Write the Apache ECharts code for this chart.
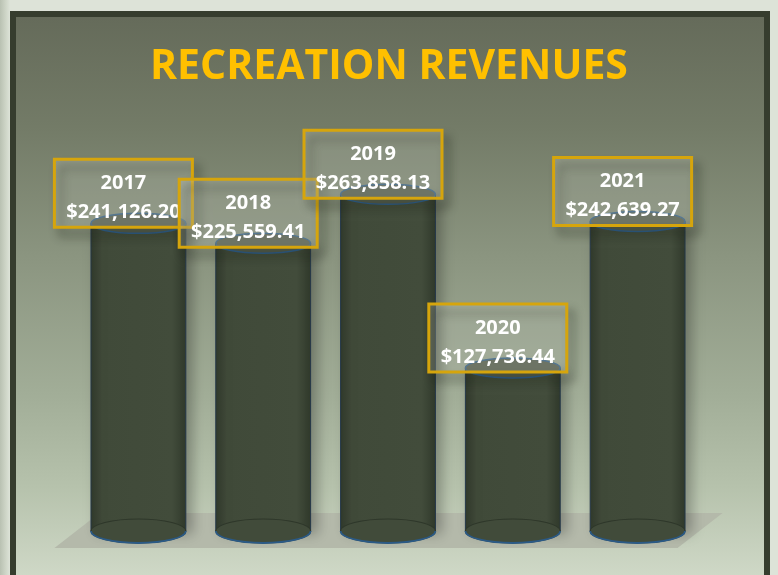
<!DOCTYPE html>
<html>
<head>
<meta charset="utf-8">
<script src="https://cdn.jsdelivr.net/npm/echarts@6/dist/echarts.min.js"></script>
<style>
  html, body { margin: 0; padding: 0; width: 778px; height: 575px; overflow: hidden; }
  body { background: linear-gradient(to right, #b9c1b2 0px, #cfd6c8 6px, #dde3d8 10px, #dde3d8 100%); position: relative; }
  #panel {
    position: absolute; left: 10px; top: 11px; width: 748px; height: 600px;
    border: 6px solid #363d2e;
    background: linear-gradient(to bottom, #656b5a 0px, #737b67 110px, #8b9580 240px, #a2ae98 380px, #b6c2ac 470px, #d2dbca 570px);
  }
  #chart { position: absolute; left: 0; top: 0; width: 778px; height: 575px; }
</style>
</head>
<body>
<div id="panel"></div>
<div id="chart"></div>
<script>
const categories = ['2017', '2018', '2019', '2020', '2021'];
const revenues = [241126.20, 225559.41, 263858.13, 127736.44, 242639.27];
const chartTitle = 'RECREATION REVENUES';

function fmtMoney(v) {
  return '$' + v.toLocaleString('en-US', { minimumFractionDigits: 2, maximumFractionDigits: 2 });
}

const chart = echarts.init(document.getElementById('chart'), null, { renderer: 'canvas' });

function renderCylinder(params, api) {
  const i = api.value(0);
  const v = api.value(1);
  const top = api.coord([i, v]);
  const base = api.coord([i, 0]);
  const w = api.size([1, 0])[0] * 0.76;
  const rx = w / 2;
  const cx = top[0];
  const left = cx - rx;
  const right = cx + rx;
  const ryB = 12, ryT = 10;
  const bodyFill = new echarts.graphic.LinearGradient(0, 0, 1, 0, [
    { offset: 0, color: '#30392b' },
    { offset: 0.12, color: '#404a39' },
    { offset: 0.85, color: '#424c3b' },
    { offset: 1, color: '#30392b' }
  ]);
  return {
    type: 'group',
    children: [
      {
        type: 'rect',
        shape: { x: left, y: top[1], width: w, height: base[1] - top[1] },
        style: { fill: bodyFill, stroke: '#25384a', lineWidth: 1,
          shadowBlur: 12, shadowOffsetX: 6, shadowOffsetY: 2, shadowColor: 'rgba(0,0,0,0.28)' }
      },
      {
        type: 'ellipse',
        shape: { cx: cx, cy: base[1], rx: rx, ry: ryB },
        style: { fill: '#414b3a', stroke: '#2e372a', lineWidth: 1.2 }
      },
      {
        type: 'path',
        shape: { pathData: 'M' + left + ',' + base[1] + ' A' + rx + ',' + ryB + ' 0 0 0 ' + right + ',' + base[1] },
        style: { fill: null, stroke: '#2b5a86', lineWidth: 1.8 }
      },
      {
        type: 'ellipse',
        shape: { cx: cx, cy: top[1], rx: rx, ry: ryT },
        style: { fill: '#4f5746', stroke: '#2b5a86', lineWidth: 1.5 }
      }
    ]
  };
}

function renderLabel(params, api) {
  const i = api.value(0);
  const v = api.value(1);
  const top = api.coord([i, v]);
  const bw = 138, bh = 68;
  const bx = top[0] - 15 - bw / 2;
  const by = top[1] + 4 - bh;
  return {
    type: 'group',
    children: [
      {
        type: 'rect',
        shape: { x: bx, y: by, width: bw, height: bh },
        style: { fill: 'rgba(226,231,216,0.24)', stroke: '#d6a50c', lineWidth: 3,
          shadowBlur: 10, shadowOffsetX: 6, shadowOffsetY: 8, shadowColor: 'rgba(30,35,25,0.45)' }
      },
      {
        type: 'text',
        style: { x: bx + bw / 2, y: by + 24, text: categories[i], fill: '#ffffff',
          font: 'bold 20px "Open Sans", sans-serif', align: 'center', verticalAlign: 'middle' }
      },
      {
        type: 'text',
        style: { x: bx + bw / 2, y: by + 53, text: fmtMoney(v), fill: '#ffffff',
          font: 'bold 20px "Open Sans", sans-serif', align: 'center', verticalAlign: 'middle' }
      }
    ]
  };
}

function renderFloor(params, api) {
  const p0 = api.coord([0, 0]);
  const p4 = api.coord([categories.length - 1, 0]);
  return {
    type: 'polygon',
    shape: { points: [
      [p0[0] - 84, p0[1] + 17],
      [p4[0] + 40, p4[1] + 17],
      [p4[0] + 85, p4[1] - 18],
      [p0[0] - 39, p0[1] - 18]
    ] },
    style: { fill: '#b4b9aa' }
  };
}

const dataPts = revenues.map((v, i) => [i, v]);

chart.setOption({
  backgroundColor: 'transparent',
  animation: false,
  title: {
    text: chartTitle,
    left: 'center',
    top: 42,
    textStyle: { color: '#ffc000', fontSize: 41, fontWeight: 'bold', fontFamily: '"Open Sans", sans-serif' }
  },
  grid: { left: 76, right: 78, top: 20.6, bottom: 44 },
  xAxis: { type: 'category', data: categories, show: false },
  yAxis: { type: 'value', min: 0, max: 400000, show: false },
  series: [
    { type: 'custom', renderItem: renderFloor, data: [[0, 0]], z: 1, silent: true },
    { type: 'custom', renderItem: renderCylinder, data: dataPts, z: 2 },
    { type: 'custom', renderItem: renderLabel, data: dataPts, z: 3 }
  ]
});
</script>
</body>
</html>
